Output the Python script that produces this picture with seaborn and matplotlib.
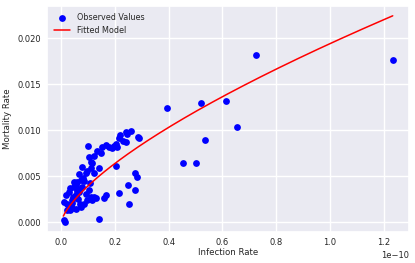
import numpy as np
import pandas as pd
import matplotlib
matplotlib.use('Agg')
import matplotlib.pyplot as plt
import seaborn as sns

# Observed values (infection rate in units of 1e-10)
infection_rate = [
    0.258, 0.239, 0.220, 0.214, 0.286, 0.239, 0.202, 0.196, 0.208, 0.189,
    0.165, 0.152, 0.134, 0.146, 0.099, 0.103, 0.109, 0.115, 0.078, 0.109,
    0.140, 0.121, 0.090, 0.066, 0.072, 0.059, 0.053, 0.047, 0.034, 0.028,
    0.016, 0.010, 0.022, 0.041, 0.053, 0.066, 0.078, 0.090, 0.103, 0.121,
    0.115, 0.128, 0.165, 0.158, 0.097, 0.084, 0.072, 0.053, 0.041, 0.034,
    0.022, 0.010, 0.015, 0.140, 0.214, 0.249, 0.276, 0.282, 0.274, 0.251,
    0.202, 0.176, 0.289, 0.246, 0.230, 0.062, 0.085, 0.045, 0.060, 0.095,
    0.070, 0.056, 0.082, 0.038, 0.105, 0.120, 0.048, 0.112, 0.068, 0.030,
    0.394, 0.453, 0.502, 0.534, 0.520, 0.613, 0.654, 0.726, 1.234,
]
mortality_rate = [
    0.00995, 0.00976, 0.00951, 0.00914, 0.00925, 0.00871, 0.00852, 0.00830, 0.00816, 0.00805,
    0.00841, 0.00816, 0.00768, 0.00750, 0.00823, 0.00706, 0.00658, 0.00640, 0.00603, 0.00585,
    0.00585, 0.00531, 0.00531, 0.00519, 0.00457, 0.00439, 0.00402, 0.00384, 0.00366, 0.00329,
    0.00293, 0.00219, 0.00202, 0.00238, 0.00293, 0.00329, 0.00384, 0.00311, 0.00348, 0.00274,
    0.00238, 0.00257, 0.00293, 0.00257, 0.00238, 0.00202, 0.00164, 0.00147, 0.00158, 0.00128,
    0.00128, 0.00020, 0.00005, 0.00037, 0.00322, 0.00402, 0.00531, 0.00487, 0.00348, 0.00202,
    0.00610, 0.00816, 0.00914, 0.00960, 0.00880, 0.00250, 0.00450, 0.00270, 0.00340, 0.00560,
    0.00360, 0.00300, 0.00480, 0.00210, 0.00420, 0.00720, 0.00440, 0.00270, 0.00200, 0.00170,
    0.01243, 0.00647, 0.00647, 0.00896, 0.01294, 0.01320, 0.01035, 0.01820, 0.01762,
]

# Fitted power-law model y = a * x^b (x in units of 1e-10)
fit_a = 0.0194
fit_b = 0.69
scale = 1e-10
x_ticks = [0.0, 0.2, 0.4, 0.6, 0.8, 1.0, 1.2]

df = pd.DataFrame({'infection': np.array(infection_rate) * scale,
                   'mortality': mortality_rate})

x_fit = np.linspace(0.0075, max(infection_rate), 200)
fit_df = pd.DataFrame({'infection': x_fit * scale,
                       'mortality': fit_a * x_fit ** fit_b})

sns.set_theme(style='darkgrid')

fig, ax = plt.subplots(figsize=(4.15, 2.63), dpi=100)
fig.subplots_adjust(left=0.113, right=0.986, bottom=0.118, top=0.979)

sns.scatterplot(data=df, x='infection', y='mortality', color='blue',
                s=24, linewidth=0, label='Observed Values', ax=ax)
sns.lineplot(data=fit_df, x='infection', y='mortality', color='red',
             linewidth=1.1, label='Fitted Model', ax=ax)

ax.set_xticks(np.array(x_ticks) * scale)
ax.set_xlabel('Infection Rate', fontsize=6.2, labelpad=1)
ax.set_ylabel('Mortality Rate', fontsize=6.2, labelpad=4)
ax.tick_params(labelsize=6, length=0, pad=4)
ax.xaxis.get_offset_text().set_fontsize(6)
ax.legend(loc='upper left', fontsize=5.8, frameon=False)

plt.savefig('out.png', dpi=100)
